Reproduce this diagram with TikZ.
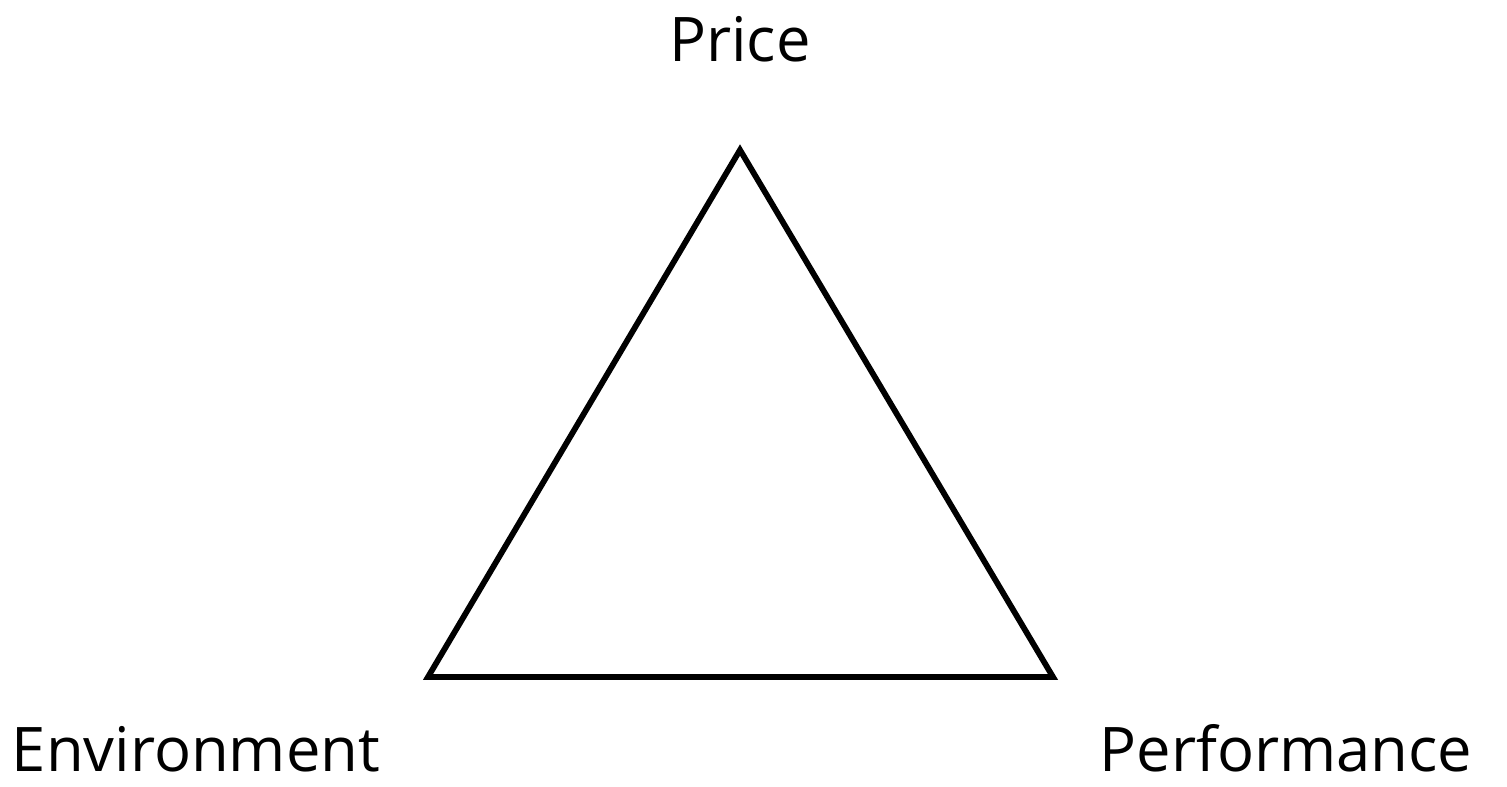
\documentclass[tikz,border=0pt]{standalone}
\usepackage{fontspec}
\setmainfont{Open Sans}
\usetikzlibrary{positioning}

\begin{document}
\begin{tikzpicture}[x=0.02cm, y=-0.02cm,
        lbl/.style={font=\fontsize{35}{40}\selectfont, inner sep=0pt, anchor=base},
        edge/.style={line width=3.3pt, line join=miter}]
        \useasboundingbox (0,0) rectangle (1507,787);
        % Corners
        \coordinate (top)   at (740,150);
        \coordinate (left)  at (428,677);
        \coordinate (right) at (1053,677);
        \draw[edge] (top) -- (left) -- (right) -- cycle;
        % Labels
        \node[lbl] (price) at (740,62)  {Price};
        \node[lbl] (env)   at (196,771) {Environment};
        \node[lbl] (perf)  at (1286,771) {Performance};
\end{tikzpicture}
\end{document}
